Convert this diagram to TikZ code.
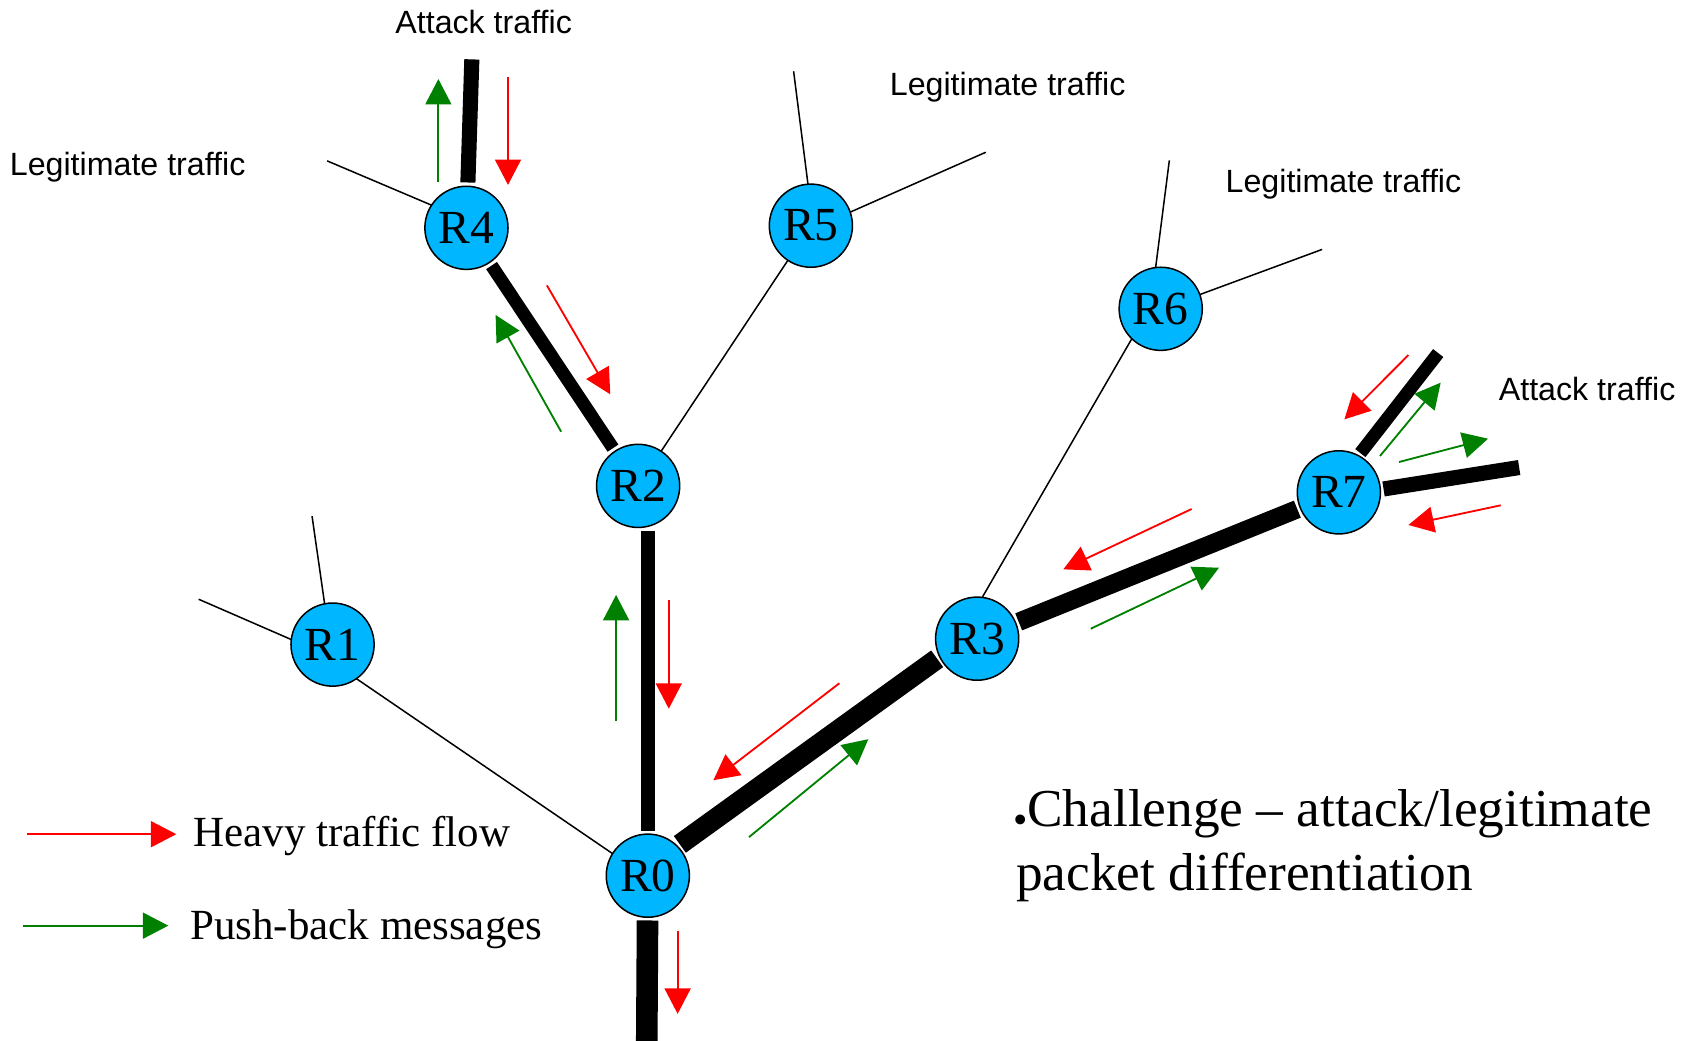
\documentclass[tikz,border=0pt]{standalone}
\usepackage{fontspec}
\setmainfont{Liberation Serif}
\newfontfamily\arialfont{Liberation Sans}
\usetikzlibrary{arrows.meta}
\definecolor{routerblue}{RGB}{0,183,255}
\definecolor{heavyred}{RGB}{255,0,0}
\definecolor{pushgreen}{RGB}{0,128,0}
\pgfdeclarelayer{bg}
\pgfsetlayers{bg,main}
\begin{document}
\begin{tikzpicture}[x=1pt,y=-1pt,
  router/.style={circle, draw=black, line width=1.4pt, fill=routerblue, minimum size=77pt,
    inner sep=0pt, outer sep=0pt, font=\fontsize{44}{44}\selectfont},
  thinlink/.style={draw=black, line width=1.4pt},
  heavylink/.style={draw=black, line cap=butt},
  heavyflow/.style={draw=heavyred, line width=1.7pt, -{Triangle[length=23.5pt,width=24pt]}},
  pushback/.style={draw=pushgreen, line width=1.7pt, -{Triangle[length=23.5pt,width=24pt]}},
  lbl/.style={font=\arialfont\fontsize{29.8}{31}\selectfont, inner sep=0pt, anchor=base west},
  legend/.style={font=\fontsize{39.8}{41}\selectfont, inner sep=0pt, anchor=base west},
  challenge/.style={font=\fontsize{49.4}{58.6}\selectfont, inner sep=0pt, anchor=base west}
]
\useasboundingbox (0,0) rectangle (1568,964);
\begin{pgfonlayer}{bg}
\fill[white] (0,0) rectangle (1568,964);
\end{pgfonlayer}

% routers
\node[router] (R0) at (600,811) {R0};
\node[router] (R1) at (308,597) {R1};
\node[router] (R2) at (591,450) {R2};
\node[router] (R3) at (905,591.5) {R3};
\node[router] (R4) at (432,211) {R4};
\node[router] (R5) at (751,209) {R5};
\node[router] (R6) at (1075,286) {R6};
\node[router] (R7) at (1240,456) {R7};

% free ends
\coordinate (a4) at (437,55);
\coordinate (l4) at (303,149);
\coordinate (l5a) at (735,66);
\coordinate (l5b) at (913,141);
\coordinate (l6a) at (1083,148.5);
\coordinate (l6b) at (1224.5,231);
\coordinate (l1a) at (289,478);
\coordinate (l1b) at (184,555);
\coordinate (a7a) at (1332,327);
\coordinate (a7b) at (1407,433);
\coordinate (bot) at (599,964);

\begin{pgfonlayer}{bg}
% thin links
\draw[thinlink] (l4) -- (R4.147);
\draw[thinlink] (l5a) -- (R5.94);
\draw[thinlink] (l5b) -- (R5.19);
\draw[thinlink] (R5) -- (R2);
\draw[thinlink] (l6a) -- (R6.97);
\draw[thinlink] (l6b) -- (R6.20);
\draw[thinlink] (R6.226) -- (R3.83);
\draw[thinlink] (l1a) -- (R1.101);
\draw[thinlink] (l1b) -- (R1.173);
\draw[thinlink] (R1.305) -- (R0.148);
% heavy links
\draw[heavylink, line width=14pt, shorten >=3.5pt] (a4) -- (R4);
\draw[heavylink, line width=12pt, shorten <=3.5pt, shorten >=3.5pt] (R4) -- (R2);
\draw[heavylink, line width=13.5pt, shorten <=3pt, shorten >=3pt] (R0) -- (R0 |- R2.south);
\draw[heavylink, line width=20pt, shorten <=3pt] (R0) -- (bot);
\draw[heavylink, line width=19pt, shorten <=3pt, shorten >=3pt] (R0.45) -- (R3.206);
\draw[heavylink, line width=17pt, shorten <=3pt, shorten >=3pt] (R3) -- (R7);
\draw[heavylink, line width=12pt, shorten <=3pt] (R7.62) -- (a7a);
\draw[heavylink, line width=14pt, shorten <=3pt] (R7.4) -- (a7b);
\end{pgfonlayer}

% heavy traffic flow arrows (red)
\coordinate (h1s) at (470.5,71.6);   \coordinate (h1e) at (470.5,171.3);
\coordinate (h2s) at (506.5,264.3);  \coordinate (h2e) at (565.2,365.2);
\coordinate (h3s) at (619.4,555.7);  \coordinate (h3e) at (619.4,656.4);
\coordinate (h4s) at (627.6,862);    \coordinate (h4e) at (627.6,939);
\coordinate (h5s) at (777.4,632.8);  \coordinate (h5e) at (660.7,722.6);
\coordinate (h6s) at (1103.7,471.4); \coordinate (h6e) at (984.8,527.3);
\coordinate (h7s) at (1304.4,328.8); \coordinate (h7e) at (1245.1,388.4);
\coordinate (h8s) at (1389.9,468);   \coordinate (h8e) at (1304.4,486.2);
\foreach \i in {1,...,8} {\draw[heavyflow] (h\i s) -- (h\i e);}

% push-back arrows (green)
\coordinate (p1s) at (406,168.9);    \coordinate (p1e) at (406,73.2);
\coordinate (p2s) at (519.7,399.8);  \coordinate (p2e) at (459,291.7);
\coordinate (p3s) at (570.6,667.5);  \coordinate (p3e) at (570.6,551);
\coordinate (p4s) at (693.7,775.3);  \coordinate (p4e) at (804.2,684.6);
\coordinate (p5s) at (1010.2,582.3); \coordinate (p5e) at (1129,525.8);
\coordinate (p6s) at (1278.1,422.3); \coordinate (p6e) at (1334.3,354.4);
\coordinate (p7s) at (1295.7,427.9); \coordinate (p7e) at (1378.2,406.3);
\foreach \i in {1,...,7} {\draw[pushback] (p\i s) -- (p\i e);}

% labels
\node[lbl] (t1) at (366,30.9) {Attack traffic};
\node[lbl] (t2) at (9,163) {Legitimate traffic};
\node[lbl] (t3) at (824,88.9) {Legitimate traffic};
\node[lbl] (t4) at (1135,178.5) {Legitimate traffic};
\node[lbl] (t5) at (1388,371) {Attack traffic};

% legend
\coordinate (lrs) at (24.8,772.6); \coordinate (lre) at (163.3,772.6);
\coordinate (lgs) at (21.5,857.3); \coordinate (lge) at (155.9,857.3);
\draw[heavyflow] (lrs) -- (lre);
\draw[pushback] (lgs) -- (lge);
\node[legend] (lg1) at (179,784) {Heavy traffic flow};
\node[legend] (lg2) at (176,870) {Push-back messages};

% challenge text
\node[challenge] (ch1) at (938,765.7) {{\fontsize{38}{38}\selectfont\raisebox{-6.5pt}{•}}Challenge – attack/legitimate};
\node[challenge] (ch2) at (941,824.3) {packet differentiation};
\end{tikzpicture}
\end{document}
